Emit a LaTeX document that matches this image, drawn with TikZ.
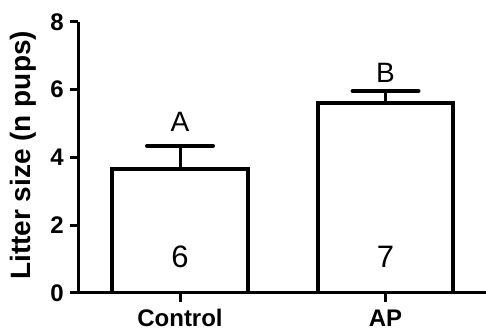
\documentclass[tikz,border=0pt]{standalone}
\usepackage{fontspec}
\setmainfont{Liberation Sans}
\usepackage{tikz}
\usetikzlibrary{positioning}

\tikzset{
  axisline/.style={line width=3pt},
  barline/.style={line width=4pt, line join=miter},
  errline/.style={line width=3pt},
  capline/.style={line width=4pt, line cap=round},
  ticklab/.style={font=\fontsize{24}{24}\selectfont\bfseries, inner sep=0pt},
  catlab/.style={font=\fontsize{24}{24}\selectfont\bfseries, inner sep=0pt},
  sigLab/.style={font=\fontsize{28}{28}\selectfont, inner sep=0pt},
  nLab/.style={font=\fontsize{31}{31}\selectfont, inner sep=0pt},
}

\begin{document}
\begin{tikzpicture}[x=1pt, y=33.9pt]
\useasboundingbox (-78, -1.121) rectangle (408, 8.643);

% barre
\draw[barline] (34, 0) -- (34, 3.66) -- (170, 3.66) -- (170, 0);
\draw[barline] (240, 0) -- (240, 5.6) -- (375, 5.6) -- (375, 0);

% errori
\draw[errline] (102, 3.66) -- (102, 4.34);
\draw[capline] (69, 4.34) -- (135, 4.34);
\draw[errline] (307.5, 5.6) -- (307.5, 5.96);
\draw[capline] (274.5, 5.96) -- (340.5, 5.96);

% assi
\draw[axisline] (0, 0) -- (0, 8);
\draw[axisline] (-1.5, 0) -- (408, 0);
\foreach \v in {0, 2, ..., 8} {
    \draw[axisline] (-8, \v) -- (0, \v);
    \node[ticklab, anchor=east] (t\v) at (-14, \v) {\v};
}
\draw[axisline] (102, 0) -- (102, -0.28);
\draw[axisline] (307.5, 0) -- (307.5, -0.28);

% etichette
\node[catlab] (ctrl) at (102, -0.74) {Control};
\node[catlab] (ap) at (307.5, -0.74) {AP};
\node[sigLab] (sa) at (102, 5.05) {A};
\node[sigLab] (sb) at (307.5, 6.49) {B};
\node[nLab] (na) at (102, 1.07) {6};
\node[nLab] (nb) at (307.5, 1.07) {7};
\node[catlab, font=\fontsize{28}{28}\selectfont\bfseries, rotate=90] (ylab) at (-55, 4.06) {Litter size (n pups)};
\end{tikzpicture}
\end{document}
